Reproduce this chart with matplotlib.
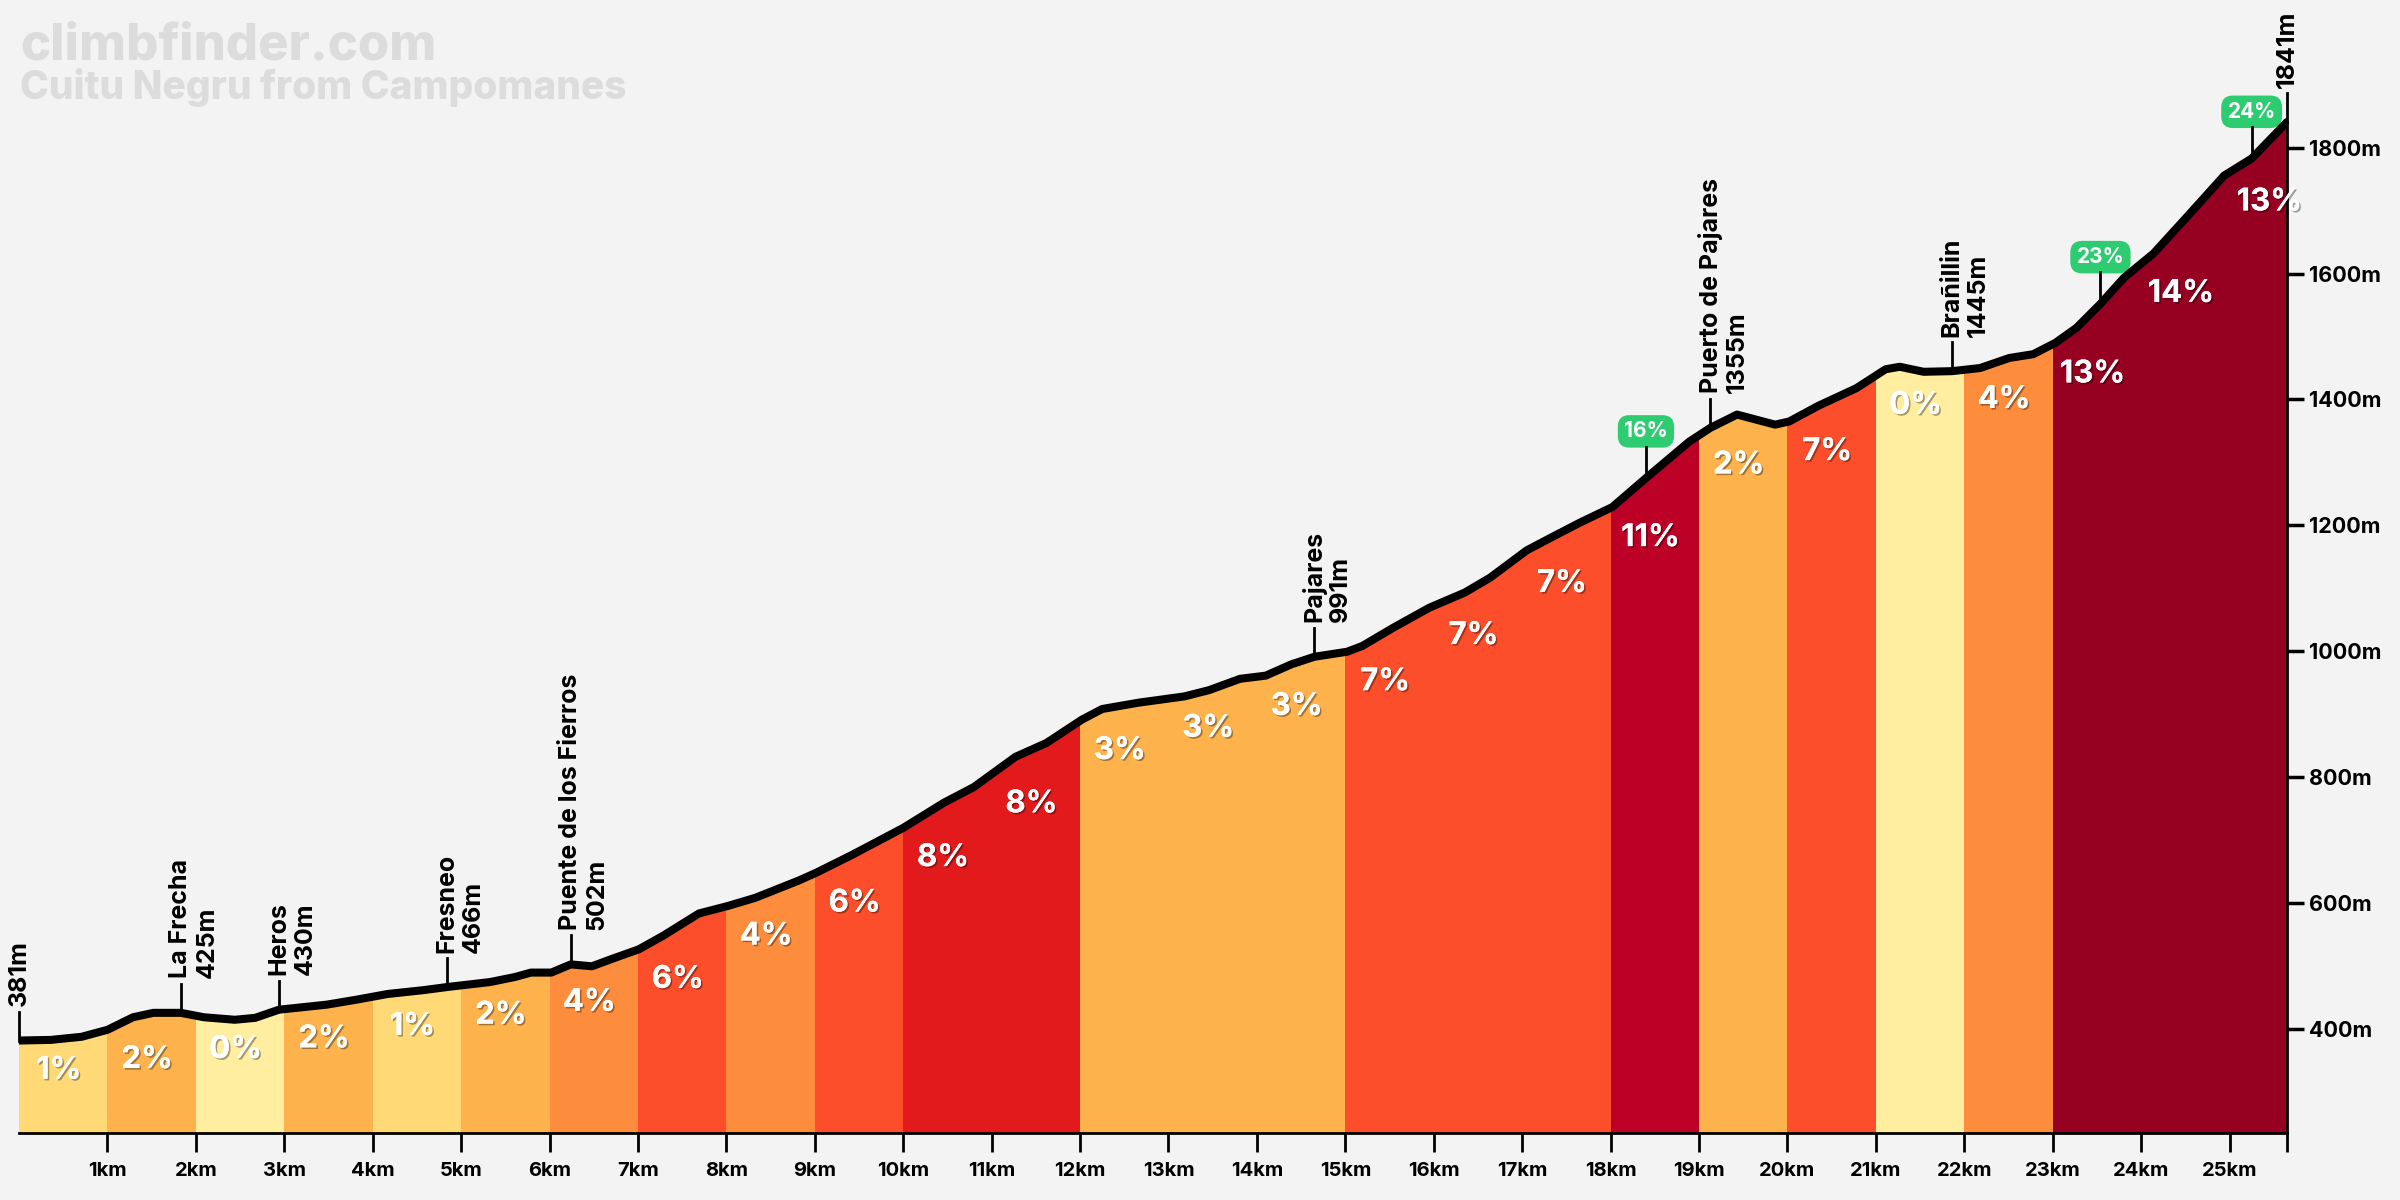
import numpy as np
import matplotlib
matplotlib.use("Agg")
import matplotlib.pyplot as plt
import matplotlib.patheffects as pe
from matplotlib.patches import Polygon

# profile: distance (km) and elevation (m)
dist_km = [0.00, 0.36, 0.71, 1.00, 1.29, 1.52, 1.83, 2.09, 2.44, 2.67, 2.94, 3.48, 3.82,
           4.17, 4.57, 4.84, 5.33, 5.61, 5.79, 6.02, 6.24, 6.48, 6.71, 7.01, 7.29, 7.69,
           8.02, 8.33, 8.83, 9.02, 9.42, 10.00, 10.46, 10.80, 11.27, 11.62, 12.02, 12.25,
           12.66, 13.18, 13.46, 13.81, 14.10, 14.39, 14.65, 15.02, 15.19, 15.54, 15.95,
           16.35, 16.64, 17.05, 17.32, 17.65, 18.02, 18.40, 18.89, 19.13, 19.43, 19.86,
           20.02, 20.35, 20.78, 21.11, 21.27, 21.54, 21.86, 22.18, 22.51, 22.78, 23.03,
           23.27, 23.54, 23.81, 24.14, 24.51, 24.94, 25.25, 25.65]
elev_m = [381, 382, 387, 398, 418, 425, 425, 418, 414, 417, 430, 438, 446,
          455, 461, 466, 474, 482, 489, 489, 502, 499, 511, 526, 548, 583,
          595, 608, 636, 648, 676, 719, 759, 784, 832, 854, 891, 908,
          918, 928, 938, 956, 961, 979, 991, 999, 1008, 1037, 1069,
          1093, 1117, 1160, 1180, 1204, 1229, 1275, 1333, 1355, 1376, 1360,
          1365, 1390, 1418, 1448, 1452, 1444, 1445, 1450, 1466, 1472, 1490,
          1514, 1552, 1594, 1632, 1689, 1756, 1783, 1841]

# gradient of each kilometre
grade_pct = [1, 2, 0, 2, 1, 2, 4, 6, 4, 6, 8, 8, 3, 3, 3, 7, 7, 7, 11, 2, 7, 0, 4, 13, 14, 13]

waypoint_names = ["La Frecha", "Heros", "Fresneo", "Puente de los Fierros",
                  "Pajares", "Puerto de Pajares", "Brañillin"]
waypoint_km = [1.83, 2.94, 4.84, 6.24, 14.65, 19.13, 21.86]
waypoint_elev = [425, 430, 466, 502, 991, 1355, 1445]

steep_km = [18.40, 23.54, 25.25]
steep_pct = [16, 23, 24]

km_ticks = list(range(1, 26))
elev_ticks = [400, 600, 800, 1000, 1200, 1400, 1600, 1800]


def grade_color(g):
    if g <= 0:
        return "#FFEDA0"
    if g <= 1:
        return "#FED976"
    if g <= 3:
        return "#FEB24C"
    if g <= 5:
        return "#FD8D3C"
    if g <= 7:
        return "#FC4E2A"
    if g <= 10:
        return "#E31A1C"
    if g <= 12:
        return "#BD0026"
    return "#960021"


plt.rcParams["font.family"] = ["Inter", "DejaVu Sans"]
plt.rcParams["font.weight"] = "bold"

bg = "#F3F3F3"
fig = plt.figure(figsize=(24, 12), dpi=100, facecolor=bg)
ax = fig.add_axes([19 / 2400, 67 / 1200, 2268 / 2400, 1133 / 1200])
ax.set_facecolor("none")

dist = np.array(dist_km)
elev = np.array(elev_m)
end_km = dist[-1]
ymin, ymax = 234, 2035
ax.set_xlim(0, end_km)
ax.set_ylim(ymin, ymax)

# area under the profile, used to clip the coloured km bands
verts = [(dist[0], ymin)] + list(zip(dist, elev)) + [(end_km, ymin)]
area = Polygon(verts, closed=True, facecolor="none", edgecolor="none")
ax.add_patch(area)

shadow = [pe.withSimplePatchShadow(offset=(1.2, -1.2), shadow_rgbFace="black", alpha=0.35),
          pe.Normal()]

for k, g in enumerate(grade_pct):
    x0, x1 = k, min(k + 1, end_km)
    span = ax.axvspan(x0, x1, color=grade_color(g), lw=0, zorder=1)
    span.set_clip_path(area)
    inside = elev[(dist >= x0) & (dist <= x1)]
    edge = np.interp([x0, x1], dist, elev)
    low = min(edge.min(), inside.min() if inside.size else edge.min())
    ax.text(x0 + 0.45, low - 48, f"{g}%", color="white", fontsize=22.5,
            ha="center", va="center", zorder=4, path_effects=shadow)

ax.plot(dist, elev, color="black", lw=5.8, solid_joinstyle="round",
        solid_capstyle="round", zorder=5)

# waypoint markers
stem = 46
for name, km, e in zip(waypoint_names, waypoint_km, waypoint_elev):
    ax.plot([km, km], [e, e + stem], color="black", lw=2, zorder=4)
    ax.annotate(name, (km, e + stem), xytext=(0, 4), textcoords="offset points",
                rotation=90, ha="center", va="bottom", fontsize=18)
    ax.annotate(f"{e}m", (km, e + stem), xytext=(19, 4), textcoords="offset points",
                rotation=90, ha="center", va="bottom", fontsize=18)

# start and summit
for km, e in [(dist[0], elev[0]), (end_km, elev[-1])]:
    ax.plot([km, km], [e, e + stem], color="black", lw=2, zorder=4, clip_on=False)
    ax.annotate(f"{e}m", (km, e + stem), xytext=(0, 4), textcoords="offset points",
                rotation=90, ha="center", va="bottom", fontsize=18, annotation_clip=False)

# steepest pitches
for km, p in zip(steep_km, steep_pct):
    e = np.interp(km, dist, elev)
    ax.plot([km, km], [e, e + 50], color="black", lw=2, zorder=4)
    ax.annotate(f"{p}%", (km, e + 50), xytext=(0, 11), textcoords="offset points",
                ha="center", va="center", fontsize=15, color="white",
                bbox=dict(boxstyle="round,pad=0.3,rounding_size=0.55",
                          fc="#2ECC71", ec="none"))

# axes
for s in ["left", "top"]:
    ax.spines[s].set_visible(False)
ax.spines["bottom"].set_linewidth(2)
ax.spines["right"].set_linewidth(2)
ax.spines["right"].set_bounds(ymin, elev[-1])

ax.set_xticks(km_ticks)
ax.set_xticklabels([f"{k}km" for k in km_ticks])
ax.set_xticks([end_km], minor=True)
ax.tick_params(axis="x", which="both", direction="out", length=14, width=2,
               pad=7, labelsize=14.5)

ax.yaxis.tick_right()
ax.set_yticks(elev_ticks)
ax.set_yticklabels([f"{v}m" for v in elev_ticks])
ax.tick_params(axis="y", direction="out", length=12, width=2.5, pad=4, labelsize=15.5)

fig.text(20 / 2400, 1 - 60 / 1200, "climbfinder.com", fontsize=36.5, fontweight="heavy",
         color="#DCDCDC", va="baseline", ha="left")
fig.text(20 / 2400, 1 - 99 / 1200, "Cuitu Negru from Campomanes", fontsize=28,
         fontweight="heavy", color="#DCDCDC", va="baseline", ha="left")

fig.savefig("out.png", dpi=100, facecolor=bg)
